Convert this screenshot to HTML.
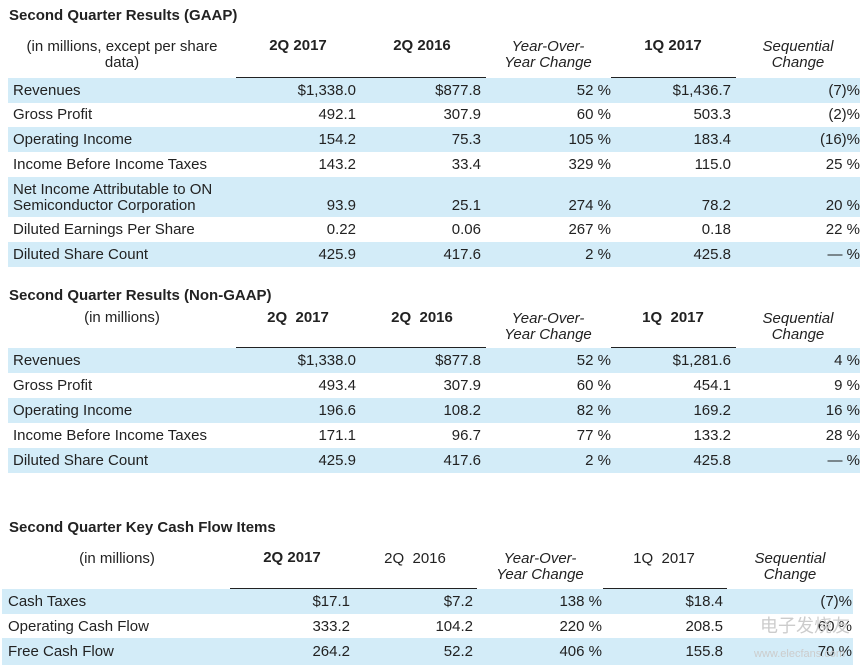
<!DOCTYPE html>
<html><head><meta charset="utf-8"><style>
body{margin:0;width:868px;height:668px;background:#fff;position:relative;overflow:hidden;font-family:"Liberation Sans",Arial,sans-serif;color:#222;font-size:15px}
div{position:absolute;white-space:nowrap;line-height:16px}
.b{background:#d3ecf8;height:25px}
.t{font-weight:bold}
.h{font-weight:bold;text-align:center;width:120px}
.hi{font-style:italic;text-align:center;width:120px;line-height:16px}
.hn{text-align:center;width:120px}
.r{text-align:right;width:100px}
.ln{height:1px;background:#222}
.l{left:13px}
</style></head><body>
<div class="t" style="left:9px;top:8px">Second Quarter Results (GAAP)</div>
<div style="left:22px;top:39px;text-align:center;width:200px">(in millions, except per share<br>data)</div>
<div class="h" style="left:238px;top:38px">2Q 2017</div>
<div class="h" style="left:362px;top:38px">2Q 2016</div>
<div class="hi" style="left:488px;top:39px">Year-Over-<br>Year Change</div>
<div class="h" style="left:613px;top:38px">1Q 2017</div>
<div class="hi" style="left:738px;top:39px">Sequential<br>Change</div>
<div class="ln" style="left:236px;top:77px;width:250px"></div>
<div class="ln" style="left:611px;top:77px;width:125px"></div>
<div class="b" style="left:8px;top:78px;width:852px"></div>
<div class="b" style="left:8px;top:127px;width:852px"></div>
<div class="b" style="left:8px;top:177px;width:852px;height:40px"></div>
<div class="b" style="left:8px;top:242px;width:852px"></div>
<div class="l" style="top:83px">Revenues</div>
<div class="l" style="top:107px">Gross Profit</div>
<div class="l" style="top:132px">Operating Income</div>
<div class="l" style="top:157px">Income Before Income Taxes</div>
<div class="l" style="top:182px">Net Income Attributable to ON<br>Semiconductor Corporation</div>
<div class="l" style="top:222px">Diluted Earnings Per Share</div>
<div class="l" style="top:247px">Diluted Share Count</div>

<div class="r" style="left:256px;top:83px">$1,338.0</div><div class="r" style="left:381px;top:83px">$877.8</div><div class="r" style="left:511px;top:83px">52 %</div><div class="r" style="left:631px;top:83px">$1,436.7</div><div class="r" style="left:760px;top:83px">(7)%</div>
<div class="r" style="left:256px;top:107px">492.1</div><div class="r" style="left:381px;top:107px">307.9</div><div class="r" style="left:511px;top:107px">60 %</div><div class="r" style="left:631px;top:107px">503.3</div><div class="r" style="left:760px;top:107px">(2)%</div>
<div class="r" style="left:256px;top:132px">154.2</div><div class="r" style="left:381px;top:132px">75.3</div><div class="r" style="left:511px;top:132px">105 %</div><div class="r" style="left:631px;top:132px">183.4</div><div class="r" style="left:760px;top:132px">(16)%</div>
<div class="r" style="left:256px;top:157px">143.2</div><div class="r" style="left:381px;top:157px">33.4</div><div class="r" style="left:511px;top:157px">329 %</div><div class="r" style="left:631px;top:157px">115.0</div><div class="r" style="left:760px;top:157px">25 %</div>
<div class="r" style="left:256px;top:198px">93.9</div><div class="r" style="left:381px;top:198px">25.1</div><div class="r" style="left:511px;top:198px">274 %</div><div class="r" style="left:631px;top:198px">78.2</div><div class="r" style="left:760px;top:198px">20 %</div>
<div class="r" style="left:256px;top:222px">0.22</div><div class="r" style="left:381px;top:222px">0.06</div><div class="r" style="left:511px;top:222px">267 %</div><div class="r" style="left:631px;top:222px">0.18</div><div class="r" style="left:760px;top:222px">22 %</div>
<div class="r" style="left:256px;top:247px">425.9</div><div class="r" style="left:381px;top:247px">417.6</div><div class="r" style="left:511px;top:247px">2 %</div><div class="r" style="left:631px;top:247px">425.8</div><div class="r" style="left:760px;top:247px">— %</div>

<div class="t" style="left:9px;top:288px">Second Quarter Results (Non-GAAP)</div>
<div style="left:62px;top:310px;text-align:center;width:120px">(in millions)</div>
<div class="h" style="left:238px;top:310px">2Q&nbsp; 2017</div>
<div class="h" style="left:362px;top:310px">2Q&nbsp; 2016</div>
<div class="hi" style="left:488px;top:311px">Year-Over-<br>Year Change</div>
<div class="h" style="left:613px;top:310px">1Q&nbsp; 2017</div>
<div class="hi" style="left:738px;top:311px">Sequential<br>Change</div>
<div class="ln" style="left:236px;top:347px;width:250px"></div>
<div class="ln" style="left:611px;top:347px;width:125px"></div>
<div class="b" style="left:8px;top:348px;width:852px"></div>
<div class="b" style="left:8px;top:398px;width:852px"></div>
<div class="b" style="left:8px;top:448px;width:852px"></div>
<div class="l" style="top:353px">Revenues</div>
<div class="l" style="top:378px">Gross Profit</div>
<div class="l" style="top:403px">Operating Income</div>
<div class="l" style="top:428px">Income Before Income Taxes</div>
<div class="l" style="top:453px">Diluted Share Count</div>
<div class="r" style="left:256px;top:353px">$1,338.0</div><div class="r" style="left:381px;top:353px">$877.8</div><div class="r" style="left:511px;top:353px">52 %</div><div class="r" style="left:631px;top:353px">$1,281.6</div><div class="r" style="left:760px;top:353px">4 %</div>
<div class="r" style="left:256px;top:378px">493.4</div><div class="r" style="left:381px;top:378px">307.9</div><div class="r" style="left:511px;top:378px">60 %</div><div class="r" style="left:631px;top:378px">454.1</div><div class="r" style="left:760px;top:378px">9 %</div>
<div class="r" style="left:256px;top:403px">196.6</div><div class="r" style="left:381px;top:403px">108.2</div><div class="r" style="left:511px;top:403px">82 %</div><div class="r" style="left:631px;top:403px">169.2</div><div class="r" style="left:760px;top:403px">16 %</div>
<div class="r" style="left:256px;top:428px">171.1</div><div class="r" style="left:381px;top:428px">96.7</div><div class="r" style="left:511px;top:428px">77 %</div><div class="r" style="left:631px;top:428px">133.2</div><div class="r" style="left:760px;top:428px">28 %</div>
<div class="r" style="left:256px;top:453px">425.9</div><div class="r" style="left:381px;top:453px">417.6</div><div class="r" style="left:511px;top:453px">2 %</div><div class="r" style="left:631px;top:453px">425.8</div><div class="r" style="left:760px;top:453px">— %</div>

<div class="t" style="left:9px;top:520px">Second Quarter Key Cash Flow Items</div>
<div style="left:57px;top:551px;text-align:center;width:120px">(in millions)</div>
<div class="h" style="left:232px;top:550px">2Q 2017</div>
<div class="hn" style="left:355px;top:551px">2Q&nbsp; 2016</div>
<div class="hi" style="left:480px;top:551px">Year-Over-<br>Year Change</div>
<div class="hn" style="left:604px;top:551px">1Q&nbsp; 2017</div>
<div class="hi" style="left:730px;top:551px">Sequential<br>Change</div>
<div class="ln" style="left:230px;top:588px;width:247px"></div>
<div class="ln" style="left:603px;top:588px;width:124px"></div>
<div class="b" style="left:2px;top:589px;width:851px"></div>
<div class="b" style="left:2px;top:638px;width:851px;height:27px"></div>
<div style="left:8px;top:594px">Cash Taxes</div>
<div style="left:8px;top:619px">Operating Cash Flow</div>
<div style="left:8px;top:644px">Free Cash Flow</div>
<div class="r" style="left:250px;top:594px">$17.1</div><div class="r" style="left:373px;top:594px">$7.2</div><div class="r" style="left:502px;top:594px">138 %</div><div class="r" style="left:623px;top:594px">$18.4</div><div class="r" style="left:752px;top:594px">(7)%</div>
<div class="r" style="left:250px;top:619px">333.2</div><div class="r" style="left:373px;top:619px">104.2</div><div class="r" style="left:502px;top:619px">220 %</div><div class="r" style="left:623px;top:619px">208.5</div><div class="r" style="left:752px;top:619px">60 %</div>
<div class="r" style="left:250px;top:644px">264.2</div><div class="r" style="left:373px;top:644px">52.2</div><div class="r" style="left:502px;top:644px">406 %</div><div class="r" style="left:623px;top:644px">155.8</div><div class="r" style="left:752px;top:644px">70 %</div>
<div style="left:760px;top:618px;color:#ccc;font-size:18px;font-family:'Liberation Sans','Noto Sans CJK SC',sans-serif">电子发烧友</div>
<div style="left:754px;top:646px;color:#ccc;font-size:11px">www.elecfans.com</div>
</body></html>
